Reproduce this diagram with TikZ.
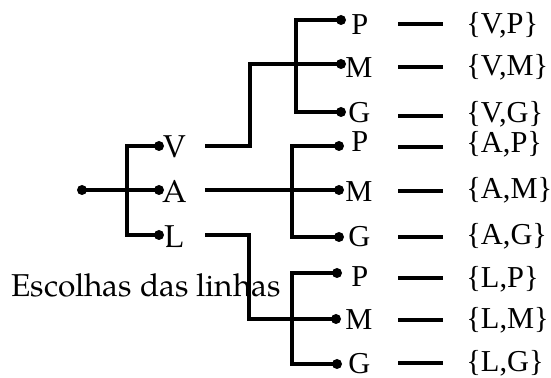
\documentclass[tikz,border=0pt]{standalone}
\usepackage{fontspec}
\setmainfont{Liberation Serif}
\newfontfamily\palfont[Extension=.otf,UprightFont=*-regular]{texgyrepagella}
\begin{document}
\begin{tikzpicture}[x=0.5pt,y=-0.5pt,
  dot/.style={circle,fill,inner sep=0pt,minimum size=5pt},
  wire/.style={line width=1.6pt},
  rlbl/.style={inner sep=0pt,anchor=west,font=\fontsize{15.2}{18}\selectfont},
  llbl/.style={inner sep=0pt,anchor=west,font=\palfont\fontsize{15.8}{18}\selectfont},
]
\useasboundingbox (0,0) rectangle (551,378);

% first choice: root and V / A / L
\coordinate (r) at (82,190);
\coordinate (dv) at (159,146);
\coordinate (da) at (159,190);
\coordinate (dl) at (159,235);
\draw[wire] (r) -- (da);
\draw[wire] (dv) -- (127,146) -- (127,235) -- (dl);
\node[llbl] (tv) at (163,147) {V};
\node[llbl] (ta) at (162,191) {A};
\node[llbl] (tl) at (164,237) {L};

% second choice: P / M / G for each first choice
\coordinate (vp) at (341,20);  \coordinate (vm) at (341,64);  \coordinate (vg) at (341,112);
\coordinate (ap) at (339,146); \coordinate (am) at (339,190); \coordinate (ag) at (339,237);
\coordinate (lp) at (337,273); \coordinate (lm) at (336,319); \coordinate (lg) at (337,364);

\draw[wire] (vp) -- (296,20) -- (296,112) -- (vg);
\draw[wire] (ap) -- (292,146) -- (292,237) -- (ag);
\draw[wire] (lp) -- (292,273) -- (292,364) -- (lg);

% links from V, A, L to the middle branch of each group
\coordinate (sv) at (205,146);
\coordinate (sa) at (205,190);
\coordinate (sl) at (205,235);
\draw[wire] (sv) -- (250,146) -- (250,64) -- (vm);
\draw[wire] (sa) -- (am);
\draw[wire] (sl) -- (249,235) -- (249,319) -- (lm);

\foreach \p in {r,dv,da,dl,vp,vm,vg,ap,am,ag,lp,lm,lg}
  \node[dot] (n\p) at (\p) {};

% leaf labels, dashes and resulting pairs
\foreach \n/\x/\y/\dy/\sy/\t/\s in {
  vp/351/25/24/25/P/{V,P},
  vm/345/68/67/67/M/{V,M},
  vg/348/113/116/114/G/{V,G},
  ap/351/142/147/144/P/{A,P},
  am/345/192/191/190/M/{A,M},
  ag/348/237/237/236/G/{A,G},
  lp/351/277/278/279/P/{L,P},
  lm/345/320/320/320/M/{L,M},
  lg/348/364/363/363/G/{L,G}}{
  \node[rlbl] (t\n) at (\x,\y) {\t};
  \coordinate (d1\n) at (398,\dy);
  \coordinate (d2\n) at (443,\dy);
  \draw[wire] (d1\n) -- (d2\n);
  \node[rlbl] (s\n) at (466,\sy) {\{\s\}};
}

\node[llbl] (cap) at (11,285) {Escolhas das linhas};
\end{tikzpicture}
\end{document}
